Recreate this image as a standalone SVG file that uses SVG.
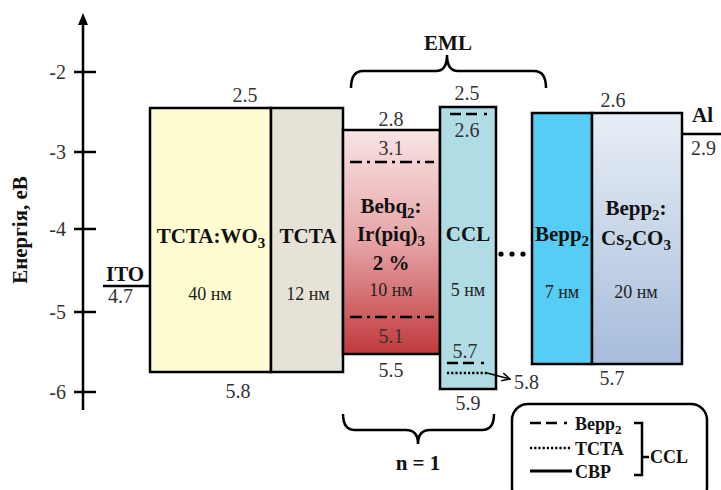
<svg xmlns="http://www.w3.org/2000/svg" width="721" height="490" viewBox="0 0 721 490" font-family="'Liberation Serif', 'Times New Roman', serif">
<style>
.num{font-family:"Liberation Serif","Times New Roman",serif;font-size:20px;fill:#333}
.lbl{font-family:"Liberation Serif","Times New Roman",serif;font-size:21px;font-weight:bold;fill:#111}
.thk{font-family:"Liberation Serif","Times New Roman",serif;font-size:18px;fill:#222}
.leg{font-family:"Liberation Serif","Times New Roman",serif;font-size:18px;font-weight:bold;fill:#111}
.box{stroke:#000;stroke-width:2.5}
.ln{stroke:#000;stroke-width:2.5;fill:none}
.mid{text-anchor:middle}
.dd{stroke:#000;stroke-width:2.5;stroke-dasharray:12,5,3,5}
.bd{stroke:#000;stroke-width:2.5;stroke-dasharray:11,5,11,7,3,200}
.dt{stroke:#000;stroke-width:2.5;stroke-dasharray:2.2,2}
</style>
<defs>
<linearGradient id="gRed" x1="0" y1="0" x2="0" y2="1">
<stop offset="0" stop-color="#f8e4e4"/>
<stop offset="0.5" stop-color="#e6a4a6"/>
<stop offset="1" stop-color="#c0393c"/>
</linearGradient>
<linearGradient id="gBlue" x1="0" y1="0" x2="0" y2="1">
<stop offset="0" stop-color="#e8eef6"/>
<stop offset="1" stop-color="#a6bcdb"/>
</linearGradient>
<marker id="arr" markerWidth="10" markerHeight="10" refX="9" refY="5" orient="auto" markerUnits="userSpaceOnUse">
<path d="M1,1 L9,5 L1,9" fill="none" stroke="#000" stroke-width="1.5"/>
</marker>
</defs>
<rect width="721" height="490" fill="#fff"/>

<g id="axis">
<line x1="83" y1="22" x2="83" y2="410" class="ln"/>
<path d="M83,13 L78,25 L88,25 Z" fill="#000"/>
<g class="ln">
<line x1="74" y1="72" x2="96" y2="72"/>
<line x1="74" y1="152" x2="96" y2="152"/>
<line x1="74" y1="229" x2="96" y2="229"/>
<line x1="74" y1="312" x2="96" y2="312"/>
<line x1="74" y1="392" x2="96" y2="392"/>
</g>
<g class="num" text-anchor="end">
<text x="66" y="79">-2</text>
<text x="66" y="159">-3</text>
<text x="66" y="236">-4</text>
<text x="66" y="319">-5</text>
<text x="66" y="399">-6</text>
</g>
<text class="lbl mid" font-size="21" transform="translate(27,230) rotate(-90)">Енергія, еВ</text>
</g>

<g id="ITO">
<line x1="103" y1="286" x2="150" y2="286" class="ln"/>
<text class="lbl" x="106" y="281">ITO</text>
<text class="num" x="108" y="303">4.7</text>
</g>

<g id="TCTA-WO3">
<rect x="150" y="108" width="121" height="264" fill="#fefcd0" class="box"/>
<text class="num mid" x="245" y="102">2.5</text>
<text class="num mid" x="238" y="398">5.8</text>
<text class="lbl mid" x="211" y="243">TCTA:WO<tspan font-size="15" dy="5">3</tspan></text>
<text class="thk mid" x="210" y="300">40 нм</text>
</g>

<g id="TCTA">
<rect x="271" y="108" width="72" height="264" fill="#e6e2d7" class="box"/>
<text class="lbl mid" x="308" y="243">TCTA</text>
<text class="thk mid" x="308" y="300">12 нм</text>
</g>

<g id="Bebq2">
<rect x="343" y="130" width="97" height="224" fill="url(#gRed)" class="box"/>
<text class="num mid" x="391" y="126">2.8</text>
<text class="num mid" x="391" y="155">3.1</text>
<line x1="350" y1="162" x2="434" y2="162" class="dd"/>
<text class="lbl mid" x="391" y="213">Bebq<tspan font-size="15" dy="5">2</tspan><tspan dy="-5">:</tspan></text>
<text class="lbl mid" x="391" y="241">Ir(piq)<tspan font-size="15" dy="5">3</tspan></text>
<text class="lbl mid" x="391" y="270">2 %</text>
<text class="thk mid" x="391" y="296">10 нм</text>
<line x1="350" y1="317" x2="434" y2="317" class="dd"/>
<text class="num mid" x="391" y="343">5.1</text>
<text class="num mid" x="391" y="377">5.5</text>
</g>

<g id="CCL">
<rect x="440" y="107" width="56" height="282" fill="#b0dce5" class="box"/>
<text class="num mid" x="467" y="100">2.5</text>
<line x1="450" y1="114" x2="492" y2="114" class="bd"/>
<text class="num mid" x="467" y="137">2.6</text>
<text class="lbl mid" x="468" y="241">CCL</text>
<text class="thk mid" x="468" y="296">5 нм</text>
<text class="num mid" x="465" y="358">5.7</text>
<line x1="447" y1="363" x2="489" y2="363" class="bd"/>
<line x1="447" y1="373" x2="487" y2="373" class="dt"/>
<text class="num mid" x="468" y="410">5.9</text>
</g>

<g id="dots" fill="#000">
<circle cx="501" cy="254" r="2.6"/>
<circle cx="512" cy="254" r="2.6"/>
<circle cx="523" cy="254" r="2.6"/>
</g>

<g id="Bepp2">
<rect x="532" y="113" width="60" height="251" fill="#56cdf4" class="box"/>
<text class="num mid" x="613" y="107">2.6</text>
<text class="lbl mid" x="562" y="241">Bepp<tspan font-size="15" dy="5">2</tspan></text>
<text class="thk mid" x="562" y="298">7 нм</text>
</g>

<g id="Bepp2-Cs2CO3">
<rect x="592" y="113" width="90" height="251" fill="url(#gBlue)" class="box"/>
<text class="num mid" x="612" y="385">5.7</text>
<text class="lbl mid" x="636" y="215">Bepp<tspan font-size="15" dy="5">2</tspan><tspan dy="-5">:</tspan></text>
<text class="lbl mid" x="636" y="245">Cs<tspan font-size="15" dy="5">2</tspan><tspan dy="-5">CO</tspan><tspan font-size="15" dy="5">3</tspan></text>
<text class="thk mid" x="636" y="298">20 нм</text>
</g>

<g id="Al">
<line x1="682" y1="134" x2="721" y2="134" class="ln"/>
<text class="lbl" x="692" y="122">Al</text>
<text class="num" x="691" y="155">2.9</text>
</g>

<g id="connectors">
<line x1="487" y1="373" x2="510" y2="379" stroke="#000" stroke-width="1.5" marker-end="url(#arr)"/>
<path d="M351,88 Q351,71 363,71 L436,71 Q447,71 447,55 Q447,71 458,71 L534,71 Q546,71 546,88" class="ln" stroke-width="2"/>
<path d="M343,414 Q343,430 355,430 L406,430 Q418,430 418,444 Q418,430 430,430 L482,430 Q494,430 494,414" class="ln" stroke-width="2"/>
</g>

<g id="labels">
<text class="lbl mid" x="448" y="50" font-size="22">EML</text>
<text class="num" x="514" y="389">5.8</text>
<text class="lbl mid" x="418" y="470" font-size="22">n = 1</text>
</g>

<g id="legend">
<rect x="512" y="404" width="195" height="100" rx="16" fill="#fff" stroke="#000" stroke-width="2.5"/>
<line x1="530" y1="423" x2="572" y2="423" class="bd"/>
<text class="leg" x="575" y="430">Bepp<tspan font-size="13" dy="4">2</tspan></text>
<line x1="530" y1="448" x2="571" y2="448" class="dt"/>
<text class="leg" x="575" y="455">TCTA</text>
<line x1="530" y1="471" x2="572" y2="471" stroke="#000" stroke-width="3"/>
<text class="leg" x="575" y="478">CBP</text>
<path d="M634,423 L642,423 L642,475 L634,475 M642,457 L649,457" class="ln" stroke-width="2"/>
<text class="leg" x="650" y="463" font-size="19">CCL</text>
</g>
</svg>
